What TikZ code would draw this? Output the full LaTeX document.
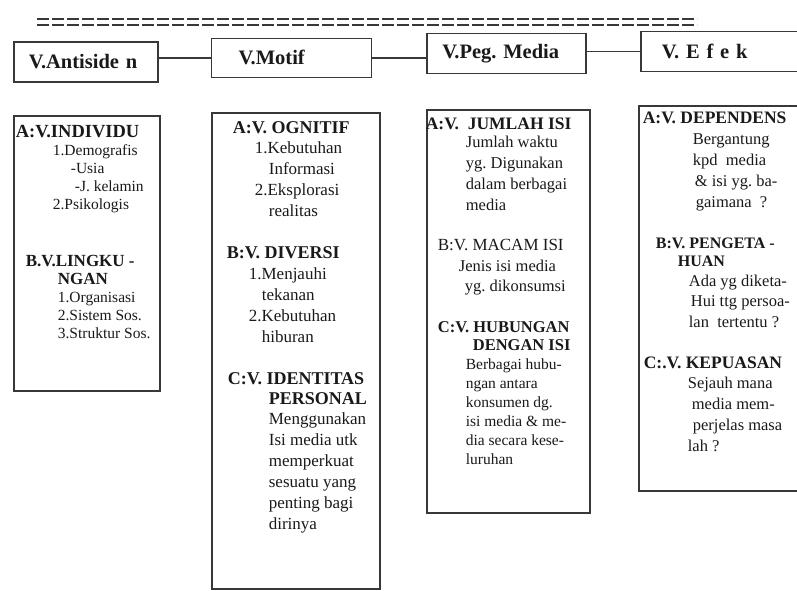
\documentclass[tikz,border=0pt]{standalone}
\usepackage{fontspec}
\setmainfont{Liberation Serif}
\usetikzlibrary{positioning}

\begin{document}
\frenchspacing
\begin{tikzpicture}[
    x=1pt, y=-1pt,
    line width=1.7pt, draw=black!78, text=black!90,
    topbox/.style={draw, align=left, minimum height=40pt, inner ysep=0pt,
        font=\fontsize{20.5}{22}\selectfont\bfseries},
    colbox/.style={draw, anchor=north west, inner sep=0pt},
    head/.style={anchor=base west, align=left, inner sep=0pt,
        font=\fontsize{17.5}{18.5}\selectfont\bfseries},
    body/.style={anchor=base west, align=left, inner sep=0pt,
        font=\fontsize{16.5}{20.8}\selectfont},
    stripe/.style={line width=2pt, dash pattern=on 12pt off 3pt}
]
\useasboundingbox (0,0) rectangle (797,590);

% double dashed rule
\draw[stripe] (37,19) -- (697,19);
\draw[stripe] (37,25) -- (697,25);

% top row
\node[topbox, anchor=north west, text width=114pt, inner xsep=15pt] (antiseden) at (13,41) {V.Antiside n};
\node[topbox, text width=106pt, inner xsep=27pt, right=52pt of antiseden, yshift=4pt, minimum height=39pt] (motif) {V.Motif};
\node[topbox, text width=129pt, inner xsep=15pt, right=54pt of motif, yshift=4.5pt] (pegmedia) {V.Peg. Media};
\node[topbox, text width=139pt, inner xsep=21pt, right=53pt of pegmedia, yshift=2pt] (efek) {V.\ E f e k};
\draw (antiseden.east |- motif.west) -- (motif.west);
\draw (motif.east) -- (motif.east -| pegmedia.west);
\draw (pegmedia.east |- efek.west) -- (efek.west);

% columns
\node[colbox, minimum width=146pt, minimum height=275pt] (indbox) at (13,115) {};
\node[colbox, minimum width=168pt, minimum height=476pt] (motbox) at (211,112) {};
\node[colbox, minimum width=163pt, minimum height=403pt] (medbox) at (426,109) {};
\node[colbox, minimum width=180pt, minimum height=385pt] (efbox) at (638,105) {};

% multi-line nodes sit on the baseline of their last line
% V.Antiseden
\node[head, font=\fontsize{18.5}{18.5}\selectfont\bfseries] (individu) at (15,137) {A:V.INDIVIDU};
\node[body, font=\fontsize{15.5}{17.7}\selectfont] (individutxt) at (52,209)
    {1.Demografis\\\hspace*{18pt}-Usia\\\hspace*{22pt}-J. kelamin\\2.Psikologis};
\node[head, font=\fontsize{17}{18}\selectfont\bfseries] (lingkungan) at (25,284) {B.V.LINGKU -\\\hspace*{32pt}NGAN};
\node[body, font=\fontsize{15.5}{18}\selectfont] (lingkungantxt) at (57,338)
    {1.Organisasi\\2.Sistem Sos.\\3.Struktur Sos.};

% V.Motif
\node[head, font=\fontsize{18}{20}\selectfont\bfseries] (kognitif) at (232,133) {A:V. OGNITIF};
\node[body, font=\fontsize{17}{21}\selectfont] (kognitiftxt) at (254,216)
    {1.Kebutuhan\\\hspace*{14pt}Informasi\\2.Eksplorasi\\\hspace*{14pt}realitas};
\node[head, font=\fontsize{18}{20}\selectfont\bfseries] (diversi) at (226,258) {B:V. DIVERSI};
\node[body, font=\fontsize{17}{21}\selectfont] (diversitxt) at (248,342)
    {1.Menjauhi\\\hspace*{13pt}tekanan\\2.Kebutuhan\\\hspace*{13pt}hiburan};
\node[head, font=\fontsize{18}{20}\selectfont\bfseries] (identitas) at (227,404) {C:V. IDENTITAS\\\hspace*{41pt}PERSONAL};
\node[body, font=\fontsize{17}{21}\selectfont] (identitastxt) at (268,529)
    {Menggunakan\\Isi media utk\\memperkuat\\sesuatu yang\\penting bagi\\dirinya};

% V.Peg. Media
\node[head] (jumlah) at (425,129) {A:V.\ \ JUMLAH ISI};
\node[body] (jumlahtxt) at (465,210) {Jumlah waktu\\yg. Digunakan\\dalam berbagai\\media};
\node[head, font=\fontsize{17}{18}\selectfont] (macam) at (437,250) {B:V. MACAM ISI};
\node[body, font=\fontsize{16.5}{20}\selectfont] (macamtxt) at (458,291) {Jenis isi media\\\hspace*{6pt}yg. dikonsumsi};
\node[head, font=\fontsize{16.5}{18}\selectfont\bfseries] (hubungan) at (437,350) {C:V. HUBUNGAN\\\hspace*{35pt}DENGAN ISI};
\node[body, font=\fontsize{15.5}{19}\selectfont] (hubungantxt) at (465,464)
    {Berbagai hubu-\\ngan antara\\konsumen dg.\\isi media \& me-\\dia secara kese-\\luruhan};

% V. Efek
\node[head] (dependens) at (642,123) {A:V. DEPENDENS};
\node[body, font=\fontsize{16.5}{21}\selectfont] (dependenstxt) at (692,207)
    {Bergantung\\kpd\ \ media\\\hspace*{2pt}\& isi yg. ba-\\\hspace*{3pt}gaimana\ \ ?};
\node[head, font=\fontsize{16}{18}\selectfont\bfseries] (pengetahuan) at (655,266) {B:V. PENGETA -\\\hspace*{22pt}HUAN};
\node[body, font=\fontsize{16.5}{20.5}\selectfont] (pengetahuantxt) at (688,327)
    {Ada yg diketa-\\\hspace*{2pt}Hui ttg persoa-\\lan\ \ tertentu ?};
\node[head] (kepuasan) at (643,368) {C:.V. KEPUASAN};
\node[body, font=\fontsize{16.5}{21}\selectfont] (kepuasantxt) at (687,451)
    {Sejauh mana\\\hspace*{4pt}media mem-\\\hspace*{5pt}perjelas masa\\lah ?};
\end{tikzpicture}
\end{document}
